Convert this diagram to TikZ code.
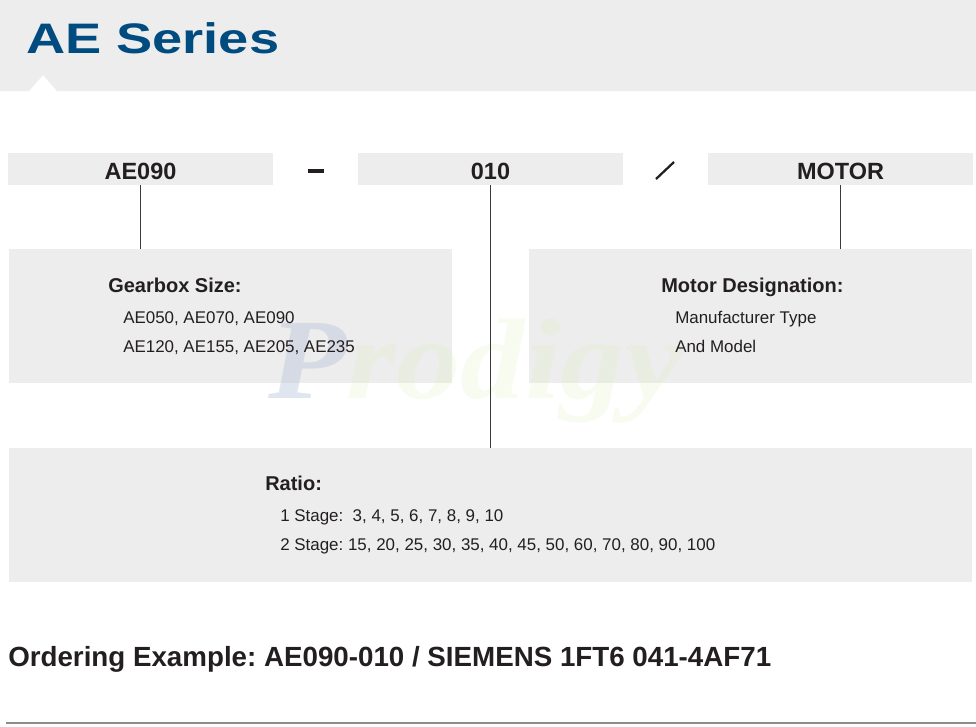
\documentclass[tikz,border=0pt]{standalone}
\usepackage{fontspec}
\setmainfont{Liberation Sans}
\newfontfamily\wmfont{Liberation Serif}
\usetikzlibrary{fit}
\definecolor{boxgray}{HTML}{EDEDED}
\definecolor{inkdark}{HTML}{231F20}
\definecolor{titleblue}{HTML}{004B80}
\definecolor{linegray}{HTML}{3A3A3A}
\definecolor{rulegray}{HTML}{8C8C8C}
\definecolor{wmblue}{HTML}{A9B8D4}
\definecolor{wmgreen}{HTML}{D7EBB0}
\tikzset{
  graybox/.style={fill=boxgray, draw=none, inner sep=0pt},
  keytext/.style={anchor=base, text=inkdark, font=\bfseries\fontsize{17.6}{20}\selectfont, inner sep=0pt},
  headtext/.style={anchor=base west, text=inkdark, font=\bfseries\fontsize{15}{18}\selectfont, inner sep=0pt},
  itemtext/.style={anchor=base west, text=inkdark, font=\fontsize{12.7}{15}\selectfont, inner sep=0pt},
  conn/.style={draw=linegray, line width=0.8pt},
}
\frenchspacing
\begin{document}
\begin{tikzpicture}[x=0.75pt,y=-0.75pt]
\useasboundingbox (0,0) rectangle (976,726);
\fill[white] (0,0) rectangle (976,726);
% header band with notch
\fill[boxgray] (0,0) -- (976,0) -- (976,91) -- (57,91) -- (43,75) -- (29,91) -- (0,91) -- cycle;
\node[anchor=base west, inner sep=0pt, text=titleblue, font=\bfseries\fontsize{32}{36}\selectfont] (title) at (26,53) {\scalebox{1.27}[1]{AE Series}};

% top key boxes
\node[graybox, fit={(8,153)(273,185)}] (b1) {};
\node[graybox, fit={(358,153)(623,185)}] (b2) {};
\node[graybox, fit={(708,153)(973,185)}] (b3) {};
\node[keytext] (k1) at (140.5,179) {AE090};
\node[keytext] (k2) at (490.5,179) {010};
\node[keytext] (k3) at (840.5,179) {MOTOR};
\fill[inkdark] (308,169) rectangle (324,173);
\draw[inkdark, line width=1.7pt] (656,179) -- (674,162);

% description boxes
\node[graybox, fit={(9,249)(452,383)}] (gear) {};
\node[graybox, fit={(529,249)(972,383)}] (motor) {};
\node[graybox, fit={(9,448)(972,582)}] (ratio) {};

% watermark (behind texts and connector)
\node[anchor=base west, inner sep=0pt, font=\wmfont\bfseries\itshape\fontsize{86}{90}\selectfont] (wm) at (268,398)
  {\scalebox{1.12}[1]{\tikz[baseline=0pt]\node[inner sep=0pt,anchor=base west,text=wmblue,text opacity=0.35]{P};\tikz[baseline=0pt]\node[inner sep=0pt,anchor=base west,text=wmgreen,text opacity=0.18]{rodigy};}};

% connectors
\draw[conn] (b1.south) -- (b1.south |- gear.north);
\draw[conn] (b2.south) -- (b2.south |- ratio.north);
\draw[conn] (b3.south) -- (b3.south |- motor.north);

% texts
\node[headtext] (gh) at (108,292) {Gearbox Size:};
\node[itemtext] (g1) at (123,323) {AE050, AE070, AE090};
\node[itemtext] (g2) at (123,352) {AE120, AE155, AE205, AE235};
\node[headtext] (mh) at (661,292) {Motor Designation:};
\node[itemtext] (m1) at (675,323) {Manufacturer Type};
\node[itemtext] (m2) at (675,352) {And Model};
\node[headtext] (rh) at (265,490) {Ratio:};
\node[itemtext] (r1) at (280,521) {1 Stage:\ \ 3, 4, 5, 6, 7, 8, 9, 10};
\node[itemtext] (r2) at (280,550) {2 Stage: 15, 20, 25, 30, 35, 40, 45, 50, 60, 70, 80, 90, 100};

% ordering example
\node[anchor=base west, inner sep=0pt, text=inkdark, font=\bfseries\fontsize{20.8}{24}\selectfont] (ord) at (8,666) {Ordering Example: AE090-010 / SIEMENS 1FT6 041-4AF71};
\coordinate (rl) at (6,723);
\coordinate (rr) at (976,723);
\draw[rulegray, line width=1.5pt] (rl) -- (rr);
\end{tikzpicture}
\end{document}
